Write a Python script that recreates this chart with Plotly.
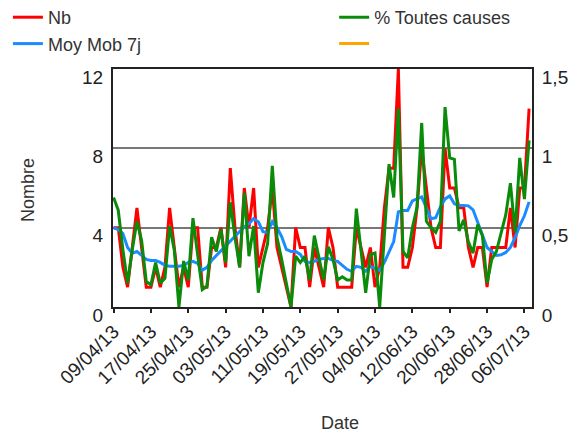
import pandas as pd
import plotly.graph_objects as go

FONT = "Liberation Sans, Arial, sans-serif"

dates = pd.date_range("2013-04-09", periods=90, freq="D")

# Nb (daily count)
nb = [
    4, 4, 2, 1, 3, 5, 3, 1, 1, 2,
    1, 2, 5, 3, 1, 2, 1, 4, 4, 1,
    1, 3, 3, 4, 2, 7, 4, 2, 6, 4,
    6, 2, 3, 4, 6, 3, 2, 1, 0, 4,
    3, 3, 1, 3, 2, 1, 4, 3, 1, 1,
    1, 1, 4, 3, 2, 3, 1, 2, 5, 7,
    7, 12, 2, 2, 3, 5, 8, 6, 4, 3,
    3, 8, 6, 6, 5, 5, 3, 2, 3, 3,
    1, 3, 3, 3, 3, 5, 3, 6, 6, 10,
]

# Moy Mob 7j
moy_mob = [
    4.0, 3.9, 3.7, 3.0, 2.7, 2.8, 2.6, 2.4, 2.35, 2.35,
    2.25, 2.1, 2.05, 2.05, 2.05, 2.1, 2.25, 2.3, 2.2, 1.85,
    2.0, 2.35, 2.6, 2.8, 3.05, 3.3, 3.55, 3.8, 4.05, 4.2,
    4.45, 4.3, 3.8, 3.75, 4.3, 4.0, 3.55, 2.9, 2.8, 2.8,
    2.65, 2.3, 2.25, 2.3, 2.4, 2.45, 2.45, 2.35, 2.3, 2.1,
    1.9, 1.8, 2.05, 2.0, 1.8, 2.05, 1.95, 1.85, 2.25, 2.8,
    3.3, 4.8, 4.87, 4.87, 5.35, 5.45, 5.55, 5.0, 4.45, 4.5,
    5.05, 5.45, 5.6, 5.2, 5.12, 5.12, 5.1, 4.9, 4.3, 3.6,
    3.0, 2.8, 2.6, 2.63, 2.75, 3.0, 3.5, 4.1, 4.6, 5.3,
]

# % Toutes causes (right axis)
pct_toutes = [
    0.69, 0.61, 0.36, 0.15, 0.36, 0.54, 0.42, 0.16, 0.14, 0.28,
    0.15, 0.18, 0.51, 0.36, 0.0, 0.29, 0.17, 0.56, 0.33, 0.11,
    0.13, 0.44, 0.35, 0.49, 0.28, 0.66, 0.44, 0.25, 0.72, 0.32,
    0.51, 0.09, 0.28, 0.4, 0.89, 0.44, 0.3, 0.15, 0.0, 0.32,
    0.28, 0.32, 0.17, 0.45, 0.32, 0.17, 0.38, 0.3, 0.17, 0.19,
    0.17, 0.17, 0.62, 0.37, 0.09, 0.33, 0.34, 0.0, 0.45, 0.9,
    0.69, 1.25, 0.35, 0.31, 0.5, 0.63, 1.16, 0.54, 0.5, 0.47,
    0.54, 1.26, 0.94, 0.93, 0.48, 0.55, 0.41, 0.34, 0.52, 0.45,
    0.15, 0.3, 0.35, 0.46, 0.58, 0.78, 0.47, 0.94, 0.68, 1.05,
]

RED = "#ff0000"
BLUE = "#1a8cff"
GREEN = "#0a8c0a"
ORANGE = "#ffa500"

fig = go.Figure()
fig.add_trace(go.Scatter(x=dates, y=nb, name="Nb", mode="lines",
                         line=dict(color=RED, width=3), legend="legend"))
fig.add_trace(go.Scatter(x=dates, y=moy_mob, name="Moy Mob 7j", mode="lines",
                         line=dict(color=BLUE, width=3), legend="legend"))
fig.add_trace(go.Scatter(x=dates, y=pct_toutes, name="% Toutes causes", mode="lines",
                         line=dict(color=GREEN, width=3), yaxis="y2", legend="legend2"))
fig.add_trace(go.Scatter(x=[dates[0]], y=[None], name=" ", mode="lines",
                         line=dict(color=ORANGE, width=3), yaxis="y2", legend="legend2"))

# the page body adds an 8px offset, so positions below are page coords minus 8
OFF = 8
W, H = 584, 432
L, T = 113 - OFF, 69 - OFF
pw = 531.7 - 113
ph = 307 - 69
R = W - L - pw
B = H - T - ph


def px_x(x):
    return (x - OFF - L) / pw


def px_y(y):
    return (T + ph - (y - OFF)) / ph


leg_font = dict(family=FONT, size=18, color="#333333")
fig.update_layout(
    width=W, height=H,
    margin=dict(l=L, r=R, t=T, b=B, autoexpand=False),
    paper_bgcolor="white", plot_bgcolor="white",
    separators=", ",
    font=dict(family=FONT, size=18, color="#222222"),
    showlegend=True,
    legend=dict(x=px_x(8), y=px_y(-1), xanchor="left", yanchor="top",
                font=leg_font, bgcolor="rgba(0,0,0,0)"),
    legend2=dict(x=px_x(334), y=px_y(-1), xanchor="left", yanchor="top",
                 font=leg_font, bgcolor="rgba(0,0,0,0)"),
    xaxis=dict(
        type="date", automargin=False,
        range=["2013-04-08 21:00", "2013-07-07 15:00"],
        tick0="2013-04-09", dtick=8 * 86400000, tickformat="%d/%m/%y",
        tickangle=-45, ticks="outside", ticklen=4, tickwidth=2, tickcolor="#222",
        tickfont=dict(family=FONT, size=19, color="#222222"),
        showgrid=False, zeroline=False,
        showline=True, linecolor="#222", linewidth=2, mirror=True,
    ),
    yaxis=dict(
        automargin=False,
        range=[0, 12], tickvals=[0, 4, 8, 12], ticks="",
        tickfont=dict(family=FONT, size=19, color="#222222"),
        ticklabelstandoff=4, ticklabelshift=8,
        showgrid=True, gridcolor="#777777", gridwidth=2, zeroline=False,
        showline=True, linecolor="#222", linewidth=2,
    ),
    yaxis2=dict(
        automargin=False,
        range=[0, 1.5], tickvals=[0, 0.5, 1, 1.5], ticks="", overlaying="y", side="right",
        tickfont=dict(family=FONT, size=19, color="#222222"),
        ticklabelstandoff=4, ticklabelshift=8,
        showgrid=False, zeroline=False,
        showline=True, linecolor="#222", linewidth=2,
    ),
    annotations=[
        dict(text="Date", xref="paper", yref="paper", x=px_x(340), y=px_y(423),
             xanchor="center", yanchor="middle", showarrow=False,
             font=dict(family=FONT, size=18, color="#333333")),
        dict(text="Nombre", xref="paper", yref="paper", x=px_x(28), y=px_y(190),
             xanchor="center", yanchor="middle", showarrow=False, textangle=-90,
             font=dict(family=FONT, size=18, color="#333333")),
    ],
)

fig.write_html("out.html")
